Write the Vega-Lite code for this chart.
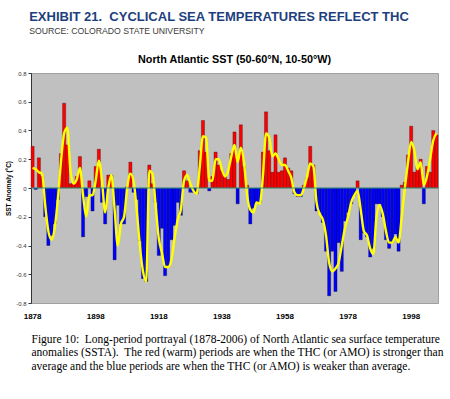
{
 "$schema": "https://vega.github.io/schema/vega-lite/v6.json",
 "background": "white",
 "padding": {"left": 5, "top": 11, "right": 5, "bottom": 5},
 "title": {"text": "EXHIBIT 21.\u00a0 CYCLICAL SEA TEMPERATURES REFLECT THC", "subtitle": "SOURCE: COLORADO STATE UNIVERSITY", "anchor": "start", "font": "Liberation Sans", "fontSize": 13, "fontWeight": "bold", "color": "#1d3f7d", "subtitleFont": "Liberation Sans", "subtitleFontSize": 8.7, "subtitleColor": "#3a3a3a", "subtitlePadding": 3, "offset": 18, "dx": 24},
 "config": {"view": {"fill": "#c0c0c0", "stroke": "#a0a0a0", "strokeWidth": 1}, "font": "Liberation Sans"},
 "vconcat": [{
  "width": 407, "height": 230,
  "title": {"text": "North Atlantic SST (50-60°N, 10-50°W)", "fontSize": 10.8, "fontWeight": "bold", "color": "#000", "offset": 5, "anchor": "middle"},
  "layer": [
   {
    "data": {"values": [
     {"year":1878,"v":0.29,"s":0.14},{"year":1879,"v":-0.01,"s":0.13},{"year":1880,"v":0.21,"s":0.11},{"year":1881,"v":0.08,"s":0.10},{"year":1882,"v":-0.20,"s":-0.12},{"year":1883,"v":-0.40,"s":-0.30},{"year":1884,"v":-0.33,"s":-0.36},{"year":1885,"v":-0.25,"s":-0.28},{"year":1886,"v":-0.08,"s":-0.08},{"year":1887,"v":0.24,"s":0.18},
     {"year":1888,"v":0.59,"s":0.38},{"year":1889,"v":0.30,"s":0.42},{"year":1890,"v":0.03,"s":0.12},{"year":1891,"v":0.04,"s":0.03},{"year":1892,"v":0.08,"s":0.06},{"year":1893,"v":0.22,"s":0.14},{"year":1894,"v":-0.34,"s":-0.05},{"year":1895,"v":-0.06,"s":-0.20},{"year":1896,"v":0.05,"s":-0.05},{"year":1897,"v":-0.16,"s":-0.05},
     {"year":1898,"v":0.15,"s":0.05},{"year":1899,"v":0.27,"s":0.19},{"year":1900,"v":-0.10,"s":0.05},{"year":1901,"v":-0.25,"s":-0.17},{"year":1902,"v":0.09,"s":0.00},{"year":1903,"v":0.09,"s":0.09},{"year":1904,"v":-0.50,"s":-0.15},{"year":1905,"v":-0.12,"s":-0.40},{"year":1906,"v":-0.25,"s":-0.25},{"year":1907,"v":-0.25,"s":-0.20},
     {"year":1908,"v":0.01,"s":0.00},{"year":1909,"v":0.18,"s":0.10},{"year":1910,"v":-0.03,"s":0.05},{"year":1911,"v":-0.08,"s":-0.15},{"year":1912,"v":-0.37,"s":-0.40},{"year":1913,"v":-0.63,"s":-0.58},{"year":1914,"v":-0.65,"s":-0.65},{"year":1915,"v":0.16,"s":0.12},{"year":1916,"v":0.03,"s":0.10},{"year":1917,"v":-0.10,"s":-0.12},
     {"year":1918,"v":-0.47,"s":-0.35},{"year":1919,"v":-0.28,"s":-0.45},{"year":1920,"v":-0.61,"s":-0.55},{"year":1921,"v":-0.55,"s":-0.55},{"year":1922,"v":-0.36,"s":-0.50},{"year":1923,"v":-0.26,"s":-0.35},{"year":1924,"v":-0.10,"s":-0.22},{"year":1925,"v":-0.19,"s":-0.15},{"year":1926,"v":0.12,"s":0.05},{"year":1927,"v":0.05,"s":0.09},
     {"year":1928,"v":-0.03,"s":0.03},{"year":1929,"v":-0.03,"s":-0.02},{"year":1930,"v":-0.04,"s":-0.04},{"year":1931,"v":0.26,"s":0.15},{"year":1932,"v":0.47,"s":0.36},{"year":1933,"v":0.25,"s":0.35},{"year":1934,"v":-0.02,"s":0.05},{"year":1935,"v":0.08,"s":0.05},{"year":1936,"v":0.25,"s":0.20},{"year":1937,"v":0.16,"s":0.20},
     {"year":1938,"v":0.12,"s":0.13},{"year":1939,"v":0.09,"s":0.08},{"year":1940,"v":0.06,"s":0.12},{"year":1941,"v":0.24,"s":0.22},{"year":1942,"v":0.39,"s":0.30},{"year":1943,"v":-0.11,"s":0.18},{"year":1944,"v":0.44,"s":0.28},{"year":1945,"v":0.15,"s":0.18},{"year":1946,"v":0.02,"s":-0.05},{"year":1947,"v":-0.25,"s":-0.15},
     {"year":1948,"v":-0.14,"s":-0.17},{"year":1949,"v":-0.10,"s":-0.10},{"year":1950,"v":-0.10,"s":-0.11},{"year":1951,"v":0.25,"s":0.08},{"year":1952,"v":0.53,"s":0.38},{"year":1953,"v":0.26,"s":0.35},{"year":1954,"v":0.11,"s":0.22},{"year":1955,"v":0.37,"s":0.24},{"year":1956,"v":0.11,"s":0.20},{"year":1957,"v":0.12,"s":0.16},
     {"year":1958,"v":0.21,"s":0.16},{"year":1959,"v":0.14,"s":0.12},{"year":1960,"v":0.12,"s":0.07},{"year":1961,"v":-0.04,"s":-0.03},{"year":1962,"v":-0.06,"s":-0.05},{"year":1963,"v":-0.06,"s":-0.05},{"year":1964,"v":0.02,"s":0.00},{"year":1965,"v":0.07,"s":0.08},{"year":1966,"v":0.29,"s":0.17},{"year":1967,"v":0.16,"s":0.15},
     {"year":1968,"v":-0.16,"s":-0.10},{"year":1969,"v":-0.17,"s":-0.18},{"year":1970,"v":-0.24,"s":-0.22},{"year":1971,"v":-0.44,"s":-0.33},{"year":1972,"v":-0.75,"s":-0.52},{"year":1973,"v":-0.44,"s":-0.58},{"year":1974,"v":-0.72,"s":-0.56},{"year":1975,"v":-0.38,"s":-0.52},{"year":1976,"v":-0.58,"s":-0.40},{"year":1977,"v":-0.23,"s":-0.28},
     {"year":1978,"v":-0.17,"s":-0.20},{"year":1979,"v":-0.11,"s":-0.10},{"year":1980,"v":-0.05,"s":-0.05},{"year":1981,"v":0.05,"s":-0.02},{"year":1982,"v":-0.36,"s":-0.15},{"year":1983,"v":-0.31,"s":-0.30},{"year":1984,"v":-0.34,"s":-0.33},{"year":1985,"v":-0.48,"s":-0.42},{"year":1986,"v":-0.42,"s":-0.46},{"year":1987,"v":-0.11,"s":-0.20},
     {"year":1988,"v":-0.11,"s":-0.12},{"year":1989,"v":-0.20,"s":-0.18},{"year":1990,"v":-0.36,"s":-0.30},{"year":1991,"v":-0.42,"s":-0.38},{"year":1992,"v":-0.38,"s":-0.38},{"year":1993,"v":-0.32,"s":-0.34},{"year":1994,"v":-0.44,"s":-0.38},{"year":1995,"v":0.02,"s":-0.20},{"year":1996,"v":0.04,"s":0.00},{"year":1997,"v":0.23,"s":0.18},
     {"year":1998,"v":0.43,"s":0.32},{"year":1999,"v":0.11,"s":0.26},{"year":2000,"v":0.15,"s":0.13},{"year":2001,"v":0.20,"s":0.18},{"year":2002,"v":-0.11,"s":0.02},{"year":2003,"v":0.15,"s":0.08},{"year":2004,"v":0.11,"s":0.20},{"year":2005,"v":0.40,"s":0.33},{"year":2006,"v":0.37,"s":0.38}
    ], "name": "sst"},
    "layer": [
     {
      "mark": {"type": "bar", "stroke": "#000000", "strokeWidth": 0.4, "strokeOpacity": 0.7},
      "encoding": {
       "x": {"field": "year", "type": "ordinal", "scale": {"paddingInner": 0, "paddingOuter": 0},
        "axis": {"values": [1878,1898,1918,1938,1958,1978,1998], "labelAngle": 0, "labelFontWeight": "bold", "labelFontSize": 8, "labelColor": "#000000", "ticks": false, "domain": false, "labelPadding": 9,
         "titleFont": "Liberation Serif", "titleFontSize": 11.5, "titleFontWeight": "normal", "titleAnchor": "start", "titleAlign": "left", "titleLineHeight": 13.5, "titlePadding": 13, "titleColor": "#000000", "titleBaseline": "top"},
        "title": ["Figure 10:\u00a0 Long-period portrayal (1878-2006) of North Atlantic sea surface temperature", "anomalies (SSTA).\u00a0 The red (warm) periods are when the THC (or AMO) is stronger than", "average and the blue periods are when the THC (or AMO) is weaker than average."]},
       "y": {"field": "v", "type": "quantitative", "scale": {"domain": [-0.8, 0.8]}, "title": "SST Anomaly (°C)",
        "axis": {"values": [-0.8,-0.6,-0.4,-0.2,0,0.2,0.4,0.6,0.8], "labelOverlap": false, "labelExpr": "datum.value == 0 ? '0' : replace(format(datum.value, '.1f'), '\u2212', '-')", "labelFontSize": 6, "labelColor": "#333333", "tickSize": 3, "tickColor": "#333333", "domainColor": "#333333", "grid": false, "titleFontSize": 6.5, "titleFontWeight": "bold", "titlePadding": 4, "titleColor": "#000000"}},
       "color": {"condition": {"test": "datum.v > 0", "value": "#ff0000"}, "value": "#0000ff"}
      }
     },
     {
      "mark": {"type": "line", "color": "#ffff00", "strokeWidth": 2.4, "interpolate": "monotone"},
      "encoding": {
       "x": {"field": "year", "type": "ordinal"},
       "y": {"field": "s", "type": "quantitative", "title": "SST Anomaly (°C)",
        "axis": {"values": [-0.8,-0.6,-0.4,-0.2,0,0.2,0.4,0.6,0.8], "labelOverlap": false, "labelExpr": "datum.value == 0 ? '0' : replace(format(datum.value, '.1f'), '\u2212', '-')", "labelFontSize": 6, "labelColor": "#333333", "tickSize": 3, "tickColor": "#333333", "domainColor": "#333333", "grid": false, "titleFontSize": 6.5, "titleFontWeight": "bold", "titlePadding": 4, "titleColor": "#000000"}}
      }
     }
    ]
   },
   {
    "data": {"values": [{"z": 0}]},
    "mark": {"type": "rule", "color": "#3a9a80", "strokeWidth": 1},
    "encoding": {"y": {"field": "z", "type": "quantitative", "title": "SST Anomaly (°C)",
     "axis": {"values": [-0.8,-0.6,-0.4,-0.2,0,0.2,0.4,0.6,0.8], "labelOverlap": false, "labelExpr": "datum.value == 0 ? '0' : replace(format(datum.value, '.1f'), '\u2212', '-')", "labelFontSize": 6, "labelColor": "#333333", "tickSize": 3, "tickColor": "#333333", "domainColor": "#333333", "grid": false, "titleFontSize": 6.5, "titleFontWeight": "bold", "titlePadding": 4, "titleColor": "#000000"}}}
   }
  ]
 }]
}
